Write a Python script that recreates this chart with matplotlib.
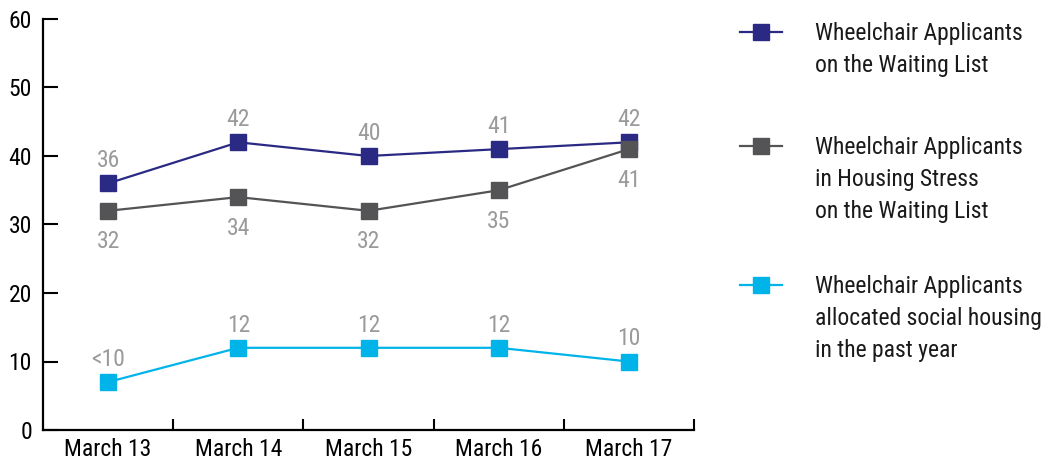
import matplotlib
matplotlib.use("Agg")
import matplotlib.pyplot as plt
from matplotlib import font_manager as fm
from matplotlib.lines import Line2D

names = {f.name for f in fm.fontManager.ttflist}
fam = None
for cand in ["Liberation Sans Narrow", "Roboto Condensed", "Arial Narrow", "Roboto"]:
    if cand in names:
        fam = cand
        break
plt.rcParams['font.family'] = [fam, 'DejaVu Sans']

categories = ["March 13", "March 14", "March 15", "March 16", "March 17"]
waiting = [36, 42, 40, 41, 42]
stress = [32, 34, 32, 35, 41]
allocated = [7, 12, 12, 12, 10]
waiting_labels = ["36", "42", "40", "41", "42"]
stress_labels = ["32", "34", "32", "35", "41"]
allocated_labels = ["<10", "12", "12", "12", "10"]
yticks = [0, 10, 20, 30, 40, 50, 60]

legend_texts = [
    "Wheelchair Applicants\non the Waiting List",
    "Wheelchair Applicants\nin Housing Stress\non the Waiting List",
    "Wheelchair Applicants\nallocated social housing\nin the past year",
]
colors = ["#2a2a85", "#545456", "#00b4ea"]
label_color = "#9a9a9c"
FS = 17

W, H = 1051, 465
fig = plt.figure(figsize=(W / 100, H / 100), dpi=100)
ax = fig.add_axes([43 / W, 1 - 430 / H, (694 - 43) / W, (430 - 19) / H])

x = list(range(len(categories)))
series = [(waiting, waiting_labels, 8), (stress, stress_labels, -14), (allocated, allocated_labels, 8)]
for (vals, labs, off), c in zip(series, colors):
    ax.plot(x, vals, color=c, lw=1.6, marker="s", ms=12, mec=c, mfc=c, zorder=3)
    for xi, v, lab in zip(x, vals, labs):
        ax.annotate(lab, (xi, v), xytext=(0, off), textcoords="offset points",
                    ha="center", va="bottom" if off > 0 else "top",
                    color=label_color, fontsize=FS)

ax.set_xlim(-0.5, len(categories) - 0.5)
ax.set_ylim(0, 60)
ax.set_yticks(yticks)
ax.set_yticklabels([str(t) for t in yticks], fontsize=FS)
ax.set_xticks(x)
ax.set_xticklabels(categories, fontsize=FS)
ax.set_xticks([i + 0.5 for i in x], minor=True)
ax.tick_params(axis="x", which="major", length=0, pad=6)
ax.tick_params(axis="x", which="minor", direction="in", length=8, width=1.5, color="black")
ax.tick_params(axis="y", direction="in", length=11, width=1.5, pad=8, color="black")
for s in ["top", "right"]:
    ax.spines[s].set_visible(False)
for s in ["left", "bottom"]:
    ax.spines[s].set_linewidth(1.6)
    ax.spines[s].set_color("black")
ax.spines["bottom"].set_capstyle("projecting")

# legend drawn manually
handle_y = [32, 146, 285]
for hy, txt, c in zip(handle_y, legend_texts, colors):
    fy = 1 - hy / H
    fig.add_artist(Line2D([740 / W, 782 / W], [fy, fy], transform=fig.transFigure,
                          color=c, lw=1.6))
    fig.add_artist(Line2D([761 / W], [fy], transform=fig.transFigure, color=c,
                          marker="s", ms=12, mfc=c, mec=c, lw=0))
    fig.text(815 / W, 1 - (hy - 10) / H, txt, fontsize=FS, va="top", ha="left",
             color="#1a1a1a", linespacing=1.5)

fig.savefig("out.png", dpi=100)
